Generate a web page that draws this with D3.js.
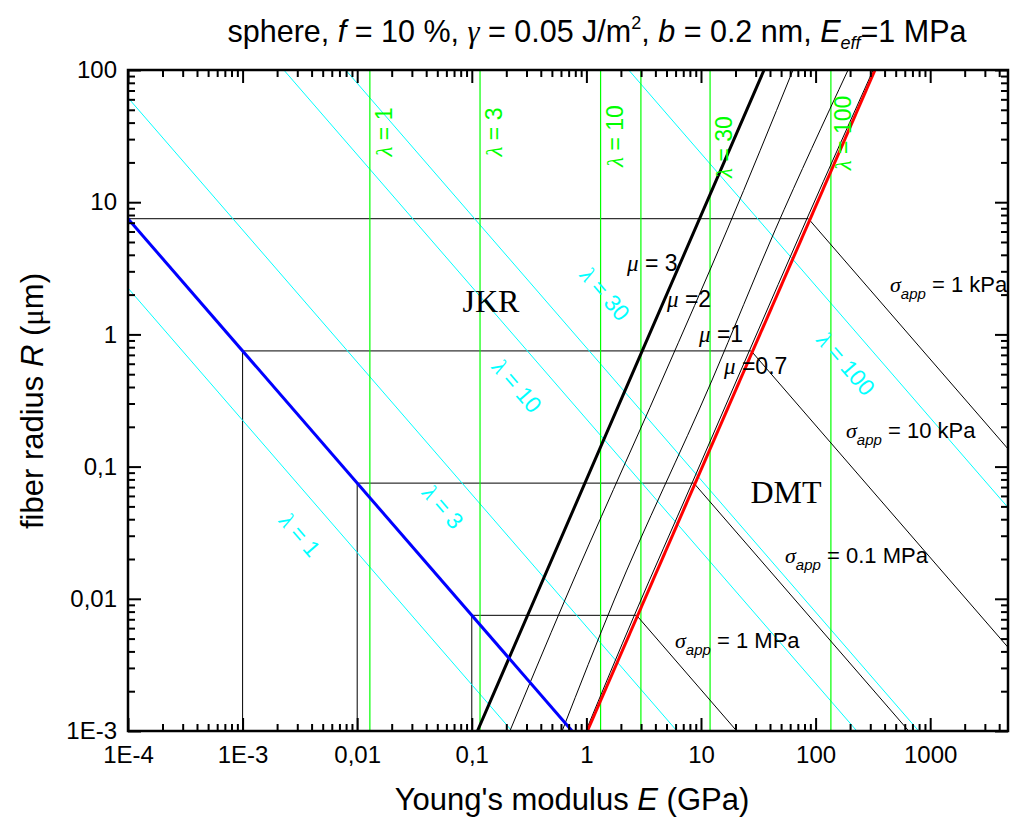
<!DOCTYPE html>
<html><head><meta charset="utf-8">
<script src="https://cdn.jsdelivr.net/npm/d3@7"></script>
<style>
body{margin:0;background:#fff}
svg{display:block}
text{font-family:"Liberation Sans",Arial,sans-serif;fill:#000}
.gr{font-family:"Liberation Serif","Times New Roman",serif;font-style:italic}
</style>
</head><body>
<svg id="chart" width="1011" height="822"></svg>
<script>
// ---------- data ----------
const xTickValues = [1e-4, 1e-3, 0.01, 0.1, 1, 10, 100, 1000];
const xTickLabels = ["1E-4", "1E-3", "0,01", "0,1", "1", "10", "100", "1000"];
const yTickValues = [1e-3, 0.01, 0.1, 1, 10, 100];
const yTickLabels = ["1E-3", "0,01", "0,1", "1", "10", "100"];
const xDomain = [1e-4, 4775];
const yDomain = [1e-3, 100];

// boundary lines  [E (GPa), R (µm)]
const blueLine = [[1e-4, 7.5], [0.75, 1e-3]];
const redLine = [[1.02, 1e-3], [330, 100]];
const mu3Line = [[0.112, 1e-3], [3.05, 0.74], [35.5, 100]];
const mu2Line = [[0.215, 1e-3], [0.65, 0.0098], [4.57, 0.452], [16.9, 6.17], [63.5, 100]];
const mu1Line = [[0.614, 1e-3], [1.75, 0.0098], [12.5, 0.452], [44.4, 6.17], [192, 100]];
const mu07Line = [[0.99, 1e-3], [2.62, 0.0075], [8.35, 0.075], [26.4, 0.75], [84, 7.5], [318, 100]];

// green vertical lambda lines (E values)
const greenLambdaE = [0.0129, 0.118, 1.33, 2.99, 12.0, 136];
const greenLabels = ["1", "3", "10", null, "30", "100"];
const greenLabelPos = [[384, 132], [494, 132], [615, 136], null, [724, 147], [843, 133]];

// cyan lambda lines (end points)
const cyanLines = [
  [[1e-4, 2.24], [0.224, 1e-3]],
  [[1e-4, 61.7], [6.17, 1e-3]],
  [[2.29e-3, 100], [229, 1e-3]],
  [[7.94e-3, 100], [794, 1e-3]],
  [[2.34, 100], [10000, 0.0234]]
];
const cyanLabels = ["1", "3", "10", "30", "100"];
const cyanLabelPos = [[300, 535], [443, 507], [517, 386], [605, 294], [846, 364]];

// stress rectangles and sigma_app lines
const rectLines = [
  [[1e-4, 7.5], [86.6, 7.5]],
  [[1e-3, 1e-3], [1e-3, 0.75], [27.4, 0.75]],
  [[0.01, 1e-3], [0.01, 0.075], [8.66, 0.075]],
  [[0.1, 1e-3], [0.1, 0.0075], [2.74, 0.0075]]
];
const sigmaLines = [
  [[86.6, 7.5], [10000, 0.065]],
  [[27.4, 0.75], [10000, 0.00205]],
  [[8.66, 0.075], [650, 1e-3]],
  [[2.74, 0.0075], [20.5, 1e-3]]
];
const sigmaLabels = ["1 kPa", "10 kPa", "0.1 MPa", "1 MPa"];
const sigmaLabelPos = [[890, 292], [846, 438], [785, 563], [675, 648]];

const muLabels = ["= 3", "=2", "=1", "=0.7"];
const muLabelPos = [[627, 271], [667, 307], [699, 342], [724, 374]];

// ---------- layout ----------
const L = 128, R = 1008, T = 70, B = 731;
const svg = d3.select("#chart");
const x = d3.scaleLog().domain(xDomain).range([L, R]);
const y = d3.scaleLog().domain(yDomain).range([B, T]);

svg.append("clipPath").attr("id", "clip").append("rect")
  .attr("x", L).attr("y", T).attr("width", R - L).attr("height", B - T);
const g = svg.append("g").attr("clip-path", "url(#clip)");
const line = d3.line().x(d => x(d[0])).y(d => y(d[1]));
const curve = d3.line().x(d => x(d[0])).y(d => y(d[1])).curve(d3.curveMonotoneX);

function path(data, color, w, gen) {
  g.append("path").attr("d", (gen || line)(data)).attr("fill", "none")
    .attr("stroke", color).attr("stroke-width", w);
}

rectLines.forEach(d => path(d, "#000", 1));
cyanLines.forEach(d => path(d, "#00ffff", 1));
greenLambdaE.forEach(e => path([[e, yDomain[0]], [e, yDomain[1]]], "#00ff00", 1.2));
sigmaLines.forEach(d => path(d, "#000", 1));
path(mu2Line, "#000", 1, curve);
path(mu1Line, "#000", 1, curve);
path(mu07Line, "#000", 1, curve);
path(mu3Line, "#000", 3, curve);
path(blueLine, "#0000ff", 3);
path(redLine, "#ff0000", 3);

// ---------- axes ----------
const minorX = x.ticks().filter(v => !xTickValues.some(t => Math.abs(t - v) / v < 1e-6));
const minorY = y.ticks().filter(v => !yTickValues.some(t => Math.abs(t - v) / v < 1e-6));

function styleAxis(sel) {
  sel.select(".domain").remove();
  sel.selectAll("line").attr("stroke", "#000").attr("stroke-width", 2);
  sel.selectAll("text").attr("font-size", 24).attr("font-family", "Liberation Sans, Arial, sans-serif");
}
svg.append("g").attr("transform", `translate(0,${B})`)
  .call(d3.axisBottom(x).tickValues(xTickValues).tickFormat((d, i) => xTickLabels[i]).tickSizeInner(-13).tickSizeOuter(0).tickPadding(15))
  .call(styleAxis);
svg.append("g").attr("transform", `translate(0,${B})`)
  .call(d3.axisBottom(x).tickValues(minorX).tickFormat("").tickSizeInner(-7).tickSizeOuter(0))
  .call(styleAxis);
svg.append("g").attr("transform", `translate(0,${T})`)
  .call(d3.axisTop(x).tickValues(xTickValues).tickFormat("").tickSizeInner(-13).tickSizeOuter(0))
  .call(styleAxis);
svg.append("g").attr("transform", `translate(0,${T})`)
  .call(d3.axisTop(x).tickValues(minorX).tickFormat("").tickSizeInner(-7).tickSizeOuter(0))
  .call(styleAxis);
svg.append("g").attr("transform", `translate(${L},0)`)
  .call(d3.axisLeft(y).tickValues(yTickValues).tickFormat((d, i) => yTickLabels[i]).tickSizeInner(-13).tickSizeOuter(0).tickPadding(11))
  .call(styleAxis);
svg.append("g").attr("transform", `translate(${L},0)`)
  .call(d3.axisLeft(y).tickValues(minorY).tickFormat("").tickSizeInner(-7).tickSizeOuter(0))
  .call(styleAxis);
svg.append("g").attr("transform", `translate(${R},0)`)
  .call(d3.axisRight(y).tickValues(yTickValues).tickFormat("").tickSizeInner(-13).tickSizeOuter(0))
  .call(styleAxis);
svg.append("g").attr("transform", `translate(${R},0)`)
  .call(d3.axisRight(y).tickValues(minorY).tickFormat("").tickSizeInner(-7).tickSizeOuter(0))
  .call(styleAxis);
svg.append("rect").attr("x", L).attr("y", T).attr("width", R - L).attr("height", B - T)
  .attr("fill", "none").attr("stroke", "#000").attr("stroke-width", 2.5);

// ---------- texts ----------
const title = svg.append("text").attr("x", 597).attr("y", 42).attr("text-anchor", "middle").attr("font-size", 30.5);
title.append("tspan").text("sphere, ");
title.append("tspan").attr("font-style", "italic").text("f");
title.append("tspan").text(" = 10 %, ");
title.append("tspan").attr("class", "gr").text("γ");
title.append("tspan").text(" = 0.05 J/m");
title.append("tspan").attr("font-size", 18).attr("dy", -13).text("2");
title.append("tspan").attr("dy", 13).text(", ");
title.append("tspan").attr("font-style", "italic").text("b");
title.append("tspan").text(" = 0.2 nm, ");
title.append("tspan").attr("font-style", "italic").text("E");
title.append("tspan").attr("font-style", "italic").attr("font-size", 18).attr("dy", 7).text("eff");
title.append("tspan").attr("dy", -7).text("=1 MPa");

const xt = svg.append("text").attr("x", 572).attr("y", 810).attr("text-anchor", "middle").attr("font-size", 31);
xt.append("tspan").text("Young's modulus ");
xt.append("tspan").attr("font-style", "italic").text("E");
xt.append("tspan").text(" (GPa)");

const yt = svg.append("text").attr("transform", "translate(43,401) rotate(-90)").attr("text-anchor", "middle").attr("font-size", 31);
yt.append("tspan").text("fiber radius ");
yt.append("tspan").attr("font-style", "italic").text("R");
yt.append("tspan").text(" (");
yt.append("tspan").attr("font-family", "Liberation Serif, serif").text("μ");
yt.append("tspan").text("m)");

svg.append("text").attr("x", 491).attr("y", 312).attr("text-anchor", "middle")
  .style("font-family", "Liberation Serif, serif").attr("font-size", 32).text("JKR");
svg.append("text").attr("x", 786).attr("y", 503).attr("text-anchor", "middle")
  .style("font-family", "Liberation Serif, serif").attr("font-size", 32).text("DMT");

// green labels
greenLabels.forEach((t, i) => {
  if (!t) return;
  const p = greenLabelPos[i];
  const tx = svg.append("text").attr("transform", `translate(${p[0]},${p[1]}) rotate(-90)`)
    .attr("text-anchor", "middle").attr("dominant-baseline", "central").attr("font-size", 23);
  tx.append("tspan").attr("class", "gr").style("fill", "#00ff00").text("λ");
  tx.append("tspan").style("fill", "#00ff00").text(" = " + t);
});
// cyan labels
const ang = Math.atan2(y(1e-3) - y(1e-2), x(10) - x(1)) * 180 / Math.PI;
cyanLabels.forEach((t, i) => {
  const p = cyanLabelPos[i];
  const tx = svg.append("text").attr("transform", `translate(${p[0]},${p[1]}) rotate(${ang})`)
    .attr("text-anchor", "middle").attr("dominant-baseline", "central").attr("font-size", 23);
  tx.append("tspan").attr("class", "gr").style("fill", "#00ffff").text("λ");
  tx.append("tspan").style("fill", "#00ffff").text(" = " + t);
});
// mu labels
muLabels.forEach((t, i) => {
  const p = muLabelPos[i];
  const tx = svg.append("text").attr("x", p[0]).attr("y", p[1]).attr("font-size", 23);
  tx.append("tspan").attr("class", "gr").text("μ");
  tx.append("tspan").text(" " + t);
});
// sigma labels
sigmaLabels.forEach((t, i) => {
  const p = sigmaLabelPos[i];
  const tx = svg.append("text").attr("x", p[0]).attr("y", p[1]).attr("font-size", 22);
  tx.append("tspan").attr("class", "gr").text("σ");
  tx.append("tspan").attr("font-style", "italic").attr("font-size", 15).attr("dy", 7).text("app");
  tx.append("tspan").attr("dy", -7).text(" = " + t);
});
</script>
</body></html>
